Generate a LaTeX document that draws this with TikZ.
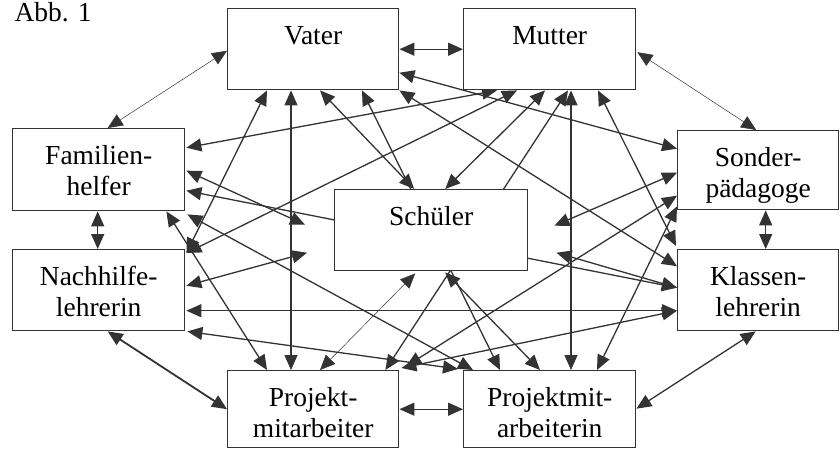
\documentclass[tikz,border=0pt]{standalone}
\usepackage{fontspec}
\setmainfont{Liberation Serif}
\usetikzlibrary{arrows.meta,calc}
\definecolor{LineClr}{rgb}{0.2,0.2,0.2}
\pgfdeclarelayer{bg}
\pgfsetlayers{bg,main}
\tikzset{
  box/.style={draw=LineClr,line width=1.4pt,fill=white,anchor=north west,
    inner sep=0pt,text height=36pt,font=\fontsize{27.5}{31}\selectfont},
  link/.style={draw=LineClr,line width=1.3pt,
    {Triangle[length=15pt,width=13pt]}-{Triangle[length=15pt,width=13pt]}},
  thinlink/.style={link,line width=0.5pt},
  boldlink/.style={link,line width=1.8pt}
}
\newcommand{\twolines}[2]{\begin{tabular}[t]{@{}c@{}}#1\\#2\end{tabular}}

\begin{document}
\begin{tikzpicture}[x=1pt,y=-1pt]
\useasboundingbox (0,0) rectangle (840,448);

\node[anchor=base west,font=\fontsize{27.5}{31}\selectfont] (abb) at (11,21) {Abb. 1};

\node[box,minimum width=171pt,text depth=45pt] (V) at (227,8) {Vater};
\node[box,minimum width=172pt,text depth=45pt] (M) at (463,8) {Mutter};
\node[box,minimum width=172pt,text depth=46pt] (F) at (12,128) {\twolines{Familien-}{helfer}};
\node[box,minimum width=161pt,text depth=43pt] (S) at (677,130) {\twolines{Sonder-}{pädagoge}};
\node[box,minimum width=193pt,text depth=45pt] (Sch) at (334,189) {Schüler};
\node[box,minimum width=172pt,text depth=45pt] (N) at (12,249) {\twolines{Nachhilfe-}{lehrerin}};
\node[box,minimum width=161pt,text depth=45pt] (K) at (677,249) {\twolines{Klassen-}{lehrerin}};
\node[box,minimum width=171pt,text depth=41pt] (PM) at (227,370) {\twolines{Projekt-}{mitarbeiter}};
\node[box,minimum width=172pt,text depth=41pt] (PW) at (463,370) {\twolines{Projektmit-}{arbeiterin}};

\coordinate (schF) at ($(Sch.west)+(-29,-5.5)$);
\coordinate (schN) at ($(Sch.west)+(-27,22.5)$);
\coordinate (schS) at ($(Sch.east)+(26,-4.5)$);
\coordinate (schK) at ($(Sch.east)+(28,22.5)$);

\begin{pgfonlayer}{bg}
\draw[link] (V.east) -- (M.west);
\draw[thinlink] ($(V.west)+(0,1.5)$) -- ($(F.north)+(9,0)$);
\draw[link] ($(V.east)+(0,23.5)$) -- ($(S.west)+(0,-21.5)$);
\draw[link] (V.south east) -- ($(K.west)+(0,-24)$);
\draw[link] ($(V.south west)+(40,0)$) -- ($(N.north east)+(1,4)$);
\draw[link] ($(V.south west)+(64,0)$) -- ($(PM.north west)+(64,0)$);
\draw[link] ($(V.south west)+(93,0)$) -- ($(Sch.north)+(-17,0)$);
\draw[link] ($(V.south west)+(135,0)$) -- ($(PW.north west)+(37,0)$);

\draw[thinlink] ($(M.east)+(1,3)$) -- ($(S.north)+(-2,0)$);
\draw[link] ($(M.south west)+(34,0)$) -- ($(F.east)+(1,-22)$);
\draw[link] ($(M.south west)+(54,0)$) -- ($(N.north east)+(1,4)$);
\draw[link] ($(M.south west)+(82,0)$) -- ($(Sch.north)+(14,0)$);
\draw[link] ($(M.south west)+(105,0)$) -- ($(PM.north east)+(-14,0)$);
\draw[link] ($(M.south west)+(108,0)$) -- ($(PW.north west)+(108,0)$);
\draw[link] ($(M.south west)+(135,0)$) -- ($(K.north west)+(-1,-3)$);

\draw[link] ($(F.south)+(-1,0)$) -- ($(N.north)+(-1,0)$);
\draw[link] ($(F.east)+(1,1)$) -- (schF);
\draw[link] ($(F.east)+(1,21)$) -- ($(K.west)+(0,-2.5)$);
\draw[link] ($(F.south east)+(2,3)$) -- ($(PW.north west)+(10,0)$);
\draw[link] ($(F.south east)+(-19,0)$) -- ($(PM.north west)+(40,0)$);

\draw[link] ($(N.east)+(1,-4.5)$) -- (schN);
\draw[link] ($(N.east)+(1,20.5)$) -- ($(K.west)+(0,20.5)$);
\draw[link] ($(N.south east)+(2,0)$) -- ($(PW.north west)+(-5,-1)$);
\draw[boldlink] ($(N.south)+(9,0)$) -- (PM.west);

\draw[link] ($(S.west)+(0,2.5)$) -- (schS);
\draw[link] ($(S.west)+(0,25.5)$) -- ($(PM.north east)+(7,-4)$);
\draw[link] ($(S.south west)+(0,-4)$) -- ($(PW.north west)+(134,0)$);
\draw[link] ($(S.south)+(7.5,0)$) -- ($(K.north)+(7.5,0)$);

\draw[link] ($(K.west)+(0,-2.5)$) -- (schK);
\draw[link] ($(PM.north east)+(2,-2)$) -- ($(K.west)+(0,20.5)$);
\draw[link] ($(K.south)+(-2.5,0)$) -- ($(PW.east)+(0,-0.5)$);

\draw[link] (PM.east) -- (PW.west);
\draw[thinlink] ($(Sch.south)+(-16,2)$) -- ($(PM.north west)+(93,0)$);
\draw[link] ($(Sch.south)+(14,1)$) -- ($(PW.north west)+(77,0)$);
\end{pgfonlayer}
\end{tikzpicture}
\end{document}
